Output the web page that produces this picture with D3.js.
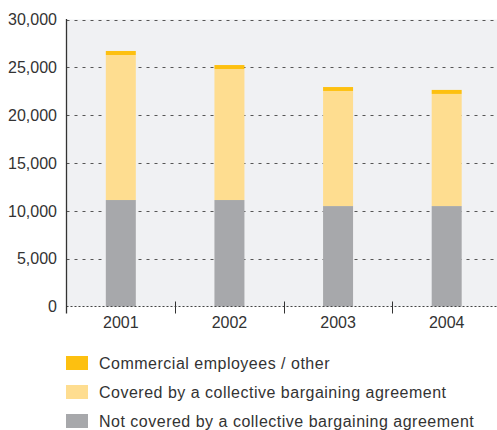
<!DOCTYPE html>
<html>
<head>
<meta charset="utf-8">
<script src="https://cdn.jsdelivr.net/npm/d3@7"></script>
<style>
  body { margin: 0; background: #fff; }
  svg text { font-family: "Liberation Sans", Arial, sans-serif; fill: #333; }
</style>
</head>
<body>
<script>
// data
let years = ["2001", "2002", "2003", "2004"]
let notCovered = [11130, 11130, 10500, 10500]
let covered = [15160, 13690, 12030, 11720]
let commercial = [420, 420, 410, 420]
let yTicks = [0, 5000, 10000, 15000, 20000, 25000, 30000]
let seriesNames = ["Commercial employees / other",
    "Covered by a collective bargaining agreement",
    "Not covered by a collective bargaining agreement"]
let seriesColors = ["#fdc010", "#fedd90", "#a7a8ab"]

let width = 497
let height = 430
let plotLeft = 66.5
let plotRight = 501
let plotTop = 19.5
let plotBottom = 306.5

let svg = d3.select("body")
    .append("svg")
    .attr("width", width)
    .attr("height", height)

let rows = years.map((y, i) => ({
    year: y,
    notCovered: notCovered[i],
    covered: covered[i],
    commercial: commercial[i]
}))

let stack = d3.stack().keys(["notCovered", "covered", "commercial"])
let layers = stack(rows)

let scaleX = d3.scaleBand()
    .domain(years)
    .range([plotLeft, plotRight])

let scaleY = d3.scaleLinear()
    .domain([0, 30000])
    .range([plotBottom, plotTop])

// plot background
svg.append("rect")
    .attr("x", plotLeft)
    .attr("y", plotTop)
    .attr("width", plotRight - plotLeft)
    .attr("height", plotBottom - plotTop)
    .attr("fill", "#f0f1f3")

// dotted grid lines
svg.append("g")
    .selectAll("line")
    .data(yTicks.filter(d => d > 0))
    .enter()
    .append("line")
    .attr("x1", plotLeft)
    .attr("x2", plotRight)
    .attr("y1", d => Math.round(scaleY(d)) + 0.5)
    .attr("y2", d => Math.round(scaleY(d)) + 0.5)
    .attr("stroke", "#555")
    .attr("stroke-width", 1.2)
    .attr("stroke-dasharray", "3,5")

// bars
let barW = 30
let colorByKey = {commercial: seriesColors[0], covered: seriesColors[1], notCovered: seriesColors[2]}
layers.forEach(layer => {
    svg.append("g")
        .selectAll("rect")
        .data(layer)
        .enter()
        .append("rect")
        .attr("x", d => scaleX(d.data.year) + scaleX.bandwidth() / 2 - barW / 2)
        .attr("width", barW)
        .attr("y", d => scaleY(d[1]))
        .attr("height", d => scaleY(d[0]) - scaleY(d[1]))
        .attr("fill", colorByKey[layer.key])
})

// bottom axis line (dotted, darker)
svg.append("line")
    .attr("x1", plotLeft)
    .attr("x2", plotRight)
    .attr("y1", plotBottom)
    .attr("y2", plotBottom)
    .attr("stroke", "#444")
    .attr("stroke-width", 1.2)
    .attr("stroke-dasharray", "2,2")

// category boundary ticks
svg.append("g")
    .selectAll("line")
    .data(years.slice(1))
    .enter()
    .append("line")
    .attr("x1", d => Math.round(scaleX(d)) + 0.5)
    .attr("x2", d => Math.round(scaleX(d)) + 0.5)
    .attr("y1", plotBottom - 5)
    .attr("y2", plotBottom + 7)
    .attr("stroke", "#333")
    .attr("stroke-width", 1)

// left axis line
svg.append("line")
    .attr("x1", plotLeft)
    .attr("x2", plotLeft)
    .attr("y1", plotTop - 0.5)
    .attr("y2", plotBottom + 7)
    .attr("stroke", "#333")
    .attr("stroke-width", 1.3)

// y tick labels
let fmt = d3.format(",")
svg.append("g")
    .selectAll("text")
    .data(yTicks)
    .enter()
    .append("text")
    .attr("x", 57)
    .attr("y", d => scaleY(d))
    .attr("dy", "0.36em")
    .attr("text-anchor", "end")
    .attr("font-size", 16)
    .text(d => fmt(d))

// x labels
svg.append("g")
    .selectAll("text")
    .data(years)
    .enter()
    .append("text")
    .attr("x", d => scaleX(d) + scaleX.bandwidth() / 2)
    .attr("y", 328)
    .attr("text-anchor", "middle")
    .attr("font-size", 16)
    .text(d => d)

// legend
let legend = svg.append("g")
    .selectAll("g")
    .data(seriesNames)
    .enter()
    .append("g")
    .attr("transform", (d, i) => `translate(66, ${356 + i * 29})`)

legend.append("rect")
    .attr("width", 22)
    .attr("height", 14)
    .attr("fill", (d, i) => seriesColors[i])

legend.append("text")
    .attr("x", 33)
    .attr("y", 7)
    .attr("dy", "0.36em")
    .attr("font-size", 16)
    .attr("letter-spacing", 0.5)
    .text(d => d)
</script>
</body>
</html>
